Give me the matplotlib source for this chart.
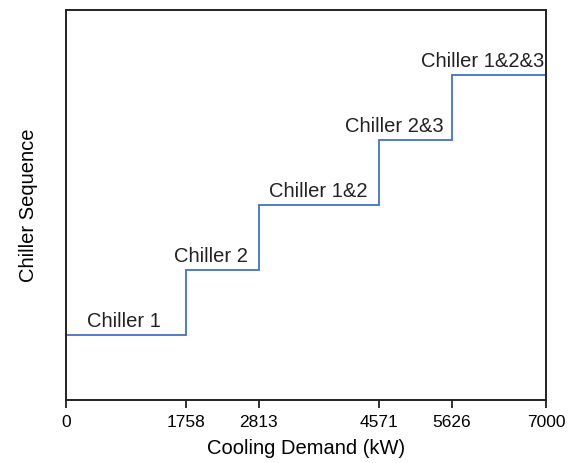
import matplotlib.pyplot as plt

plt.rcParams['font.family'] = ['Liberation Sans', 'DejaVu Sans']

# step boundaries (kW) and chiller stages
edges = [0, 1758, 2813, 4571, 5626, 7000]
levels = [1, 2, 3, 4, 5]
labels = ["Chiller 1", "Chiller 2", "Chiller 1&2", "Chiller 2&3", "Chiller 1&2&3"]
label_x = [853, 2115, 3675, 4783, 6080]

fig = plt.figure(figsize=(5.73, 4.63), dpi=100)
ax = fig.add_axes([0.115, 0.136, 0.838, 0.842])

ax.stairs(levels, edges, baseline=None, color="#4472C4", linewidth=1.3)

for x, y, t in zip(label_x, levels, labels):
    ax.text(x, y + 0.07, t, ha="center", va="bottom", fontsize=14.5, color="#222222")

ax.set_xlim(0, 7000)
ax.set_ylim(0, 6)
ax.set_xticks(edges)
ax.set_xticklabels([str(e) for e in edges], fontsize=12.5)
ax.set_yticks([])
ax.tick_params(axis="x", direction="out", length=6, width=1.3, color="#222222", pad=5)
for s in ax.spines.values():
    s.set_linewidth(1.4)
    s.set_color("#222222")

ax.set_xlabel("Cooling Demand (kW)", fontsize=14.5, labelpad=6)
ax.set_ylabel("Chiller Sequence", fontsize=14.5, labelpad=20)

fig.savefig("out.png", dpi=100)
